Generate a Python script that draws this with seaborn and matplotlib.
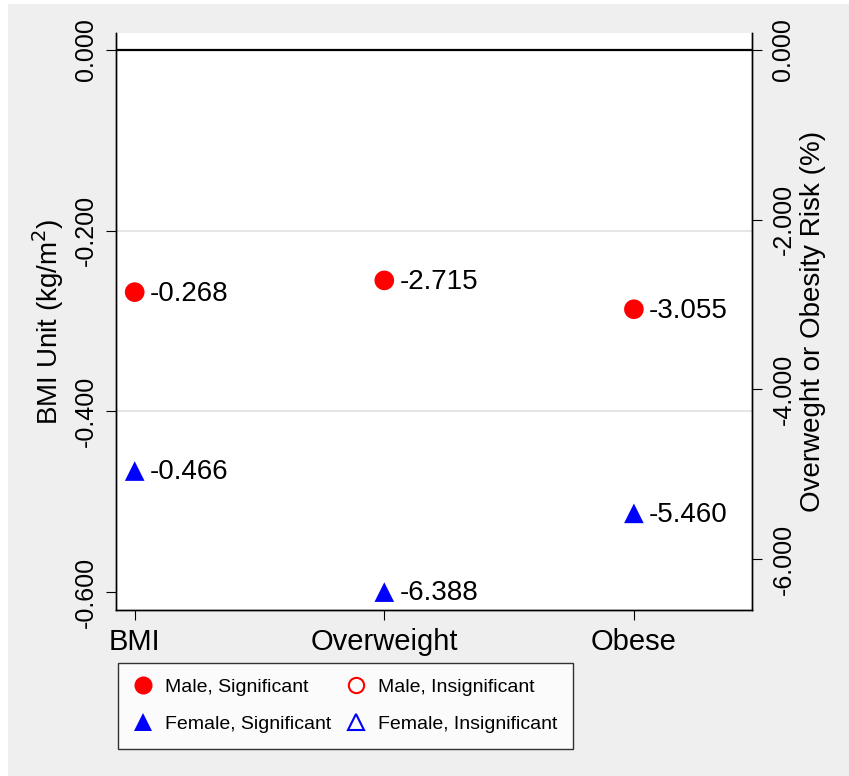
import matplotlib
matplotlib.use("Agg")
import numpy as np
import pandas as pd
import matplotlib.pyplot as plt
from matplotlib.lines import Line2D
from matplotlib.patches import Rectangle
import seaborn as sns

# values
categories = ["BMI", "Overweight", "Obese"]
male_sig = [-0.268, -2.715, -3.055]
female_sig = [-0.466, -6.388, -5.460]
left_ticks = [0.0, -0.2, -0.4, -0.6]
right_ticks = [0.0, -2.0, -4.0, -6.0]

sns.set_style("white")
plt.rcParams['font.family'] = ['Liberation Sans', 'DejaVu Sans']
plt.rcParams.update({"text.color": "black", "axes.labelcolor": "black",
                     "xtick.color": "black", "ytick.color": "black"})

df = pd.DataFrame({
    "outcome": categories * 2,
    "pos": list(range(len(categories))) * 2,
    "sex": ["Male"] * 3 + ["Female"] * 3,
    "value": male_sig + female_sig,
})
bmi = df[df.outcome == "BMI"]
risk = df[df.outcome != "BMI"]

fig = plt.figure(figsize=(8.49, 7.76), dpi=100)
fig.patch.set_facecolor("white")
fig.patches.append(Rectangle((8 / 849, 0), 1, 772 / 776, transform=fig.transFigure,
                             facecolor="#efefef", edgecolor="none", zorder=-10))

ax = fig.add_axes([0.1366, 0.2139, 0.7491, 0.7436])
ax2 = ax.twinx()

pal = {"Male": "red", "Female": "blue"}
mk = {"Male": "o", "Female": "^"}
sns.scatterplot(data=bmi, x="pos", y="value", hue="sex", style="sex", palette=pal,
                markers=mk, s=200, linewidth=0, legend=False, ax=ax, zorder=5)
sns.scatterplot(data=risk, x="pos", y="value", hue="sex", style="sex", palette=pal,
                markers=mk, s=200, linewidth=0, legend=False, ax=ax2, zorder=5)

for a, d in [(ax, bmi), (ax2, risk)]:
    for _, r in d.iterrows():
        a.annotate(f"{r.value:.3f}", (r.pos, r.value), xytext=(11, -1),
                   textcoords="offset points", ha="left", va="center", fontsize=20)

# reference lines
ax.axhline(0, color="black", lw=1.6, zorder=2)
for v in left_ticks[1:-1]:
    ax.axhline(v, color="#e6e6e6", lw=1.5, zorder=0)

ax.set_xlim(-0.075, 2.473)
ax.set_ylim(-0.6198, 0.0188)
ax2.set_ylim(-0.6198 * 10.647, 0.0188 * 10.647)

ax.set_xticks(range(len(categories)))
ax.set_xticklabels(categories, fontsize=21)
ax.set_yticks(left_ticks)
ax.set_yticklabels([f"{v:.3f}" for v in left_ticks], fontsize=18, rotation=90, va="center")
ax2.set_yticks(right_ticks)
ax2.set_yticklabels([f"{v:.3f}" for v in right_ticks], fontsize=18, rotation=90, va="center")

ax.tick_params(axis="x", bottom=True, length=7, width=0.8, color="black", pad=6)
ax.tick_params(axis="y", left=True, length=7, width=0.8, color="black", pad=6)
ax2.tick_params(axis="y", right=True, length=7, width=0.8, color="black", pad=7)

ax.set_xlabel("")
ax.set_ylabel("BMI Unit (kg/m$^2$)", fontsize=20, labelpad=6)
ax2.set_ylabel("Overweght or Obesity Risk (%)", fontsize=20, rotation=90, labelpad=3)

for a in (ax, ax2):
    a.spines["top"].set_visible(False)
    for s in ("left", "right", "bottom"):
        a.spines[s].set_color("black")
        a.spines[s].set_linewidth(1)

handles = [
    Line2D([], [], ls="none", marker="o", markersize=13, color="red", markeredgewidth=0),
    Line2D([], [], ls="none", marker="^", markersize=13, color="blue", markeredgewidth=0),
    Line2D([], [], ls="none", marker="o", markersize=11, markerfacecolor="none",
           markeredgecolor="red", markeredgewidth=1.5),
    Line2D([], [], ls="none", marker="^", markersize=11, markerfacecolor="none",
           markeredgecolor="blue", markeredgewidth=1.5),
]
labels = ["Male, Significant", "Female, Significant",
          "Male, Insignificant", "Female, Insignificant"]
leg = fig.legend(handles, labels, ncol=2, loc="upper left",
                 bbox_to_anchor=(118 / 849, 1 - 663 / 776), borderaxespad=0,
                 frameon=True, fancybox=False, edgecolor="black", facecolor="white",
                 prop={"size": 14},
                 handlelength=1.0, handletextpad=0.6, columnspacing=0.8,
                 labelspacing=1.0, borderpad=0.8)
leg.get_frame().set_linewidth(1)

fig.savefig("out.png", dpi=100)
